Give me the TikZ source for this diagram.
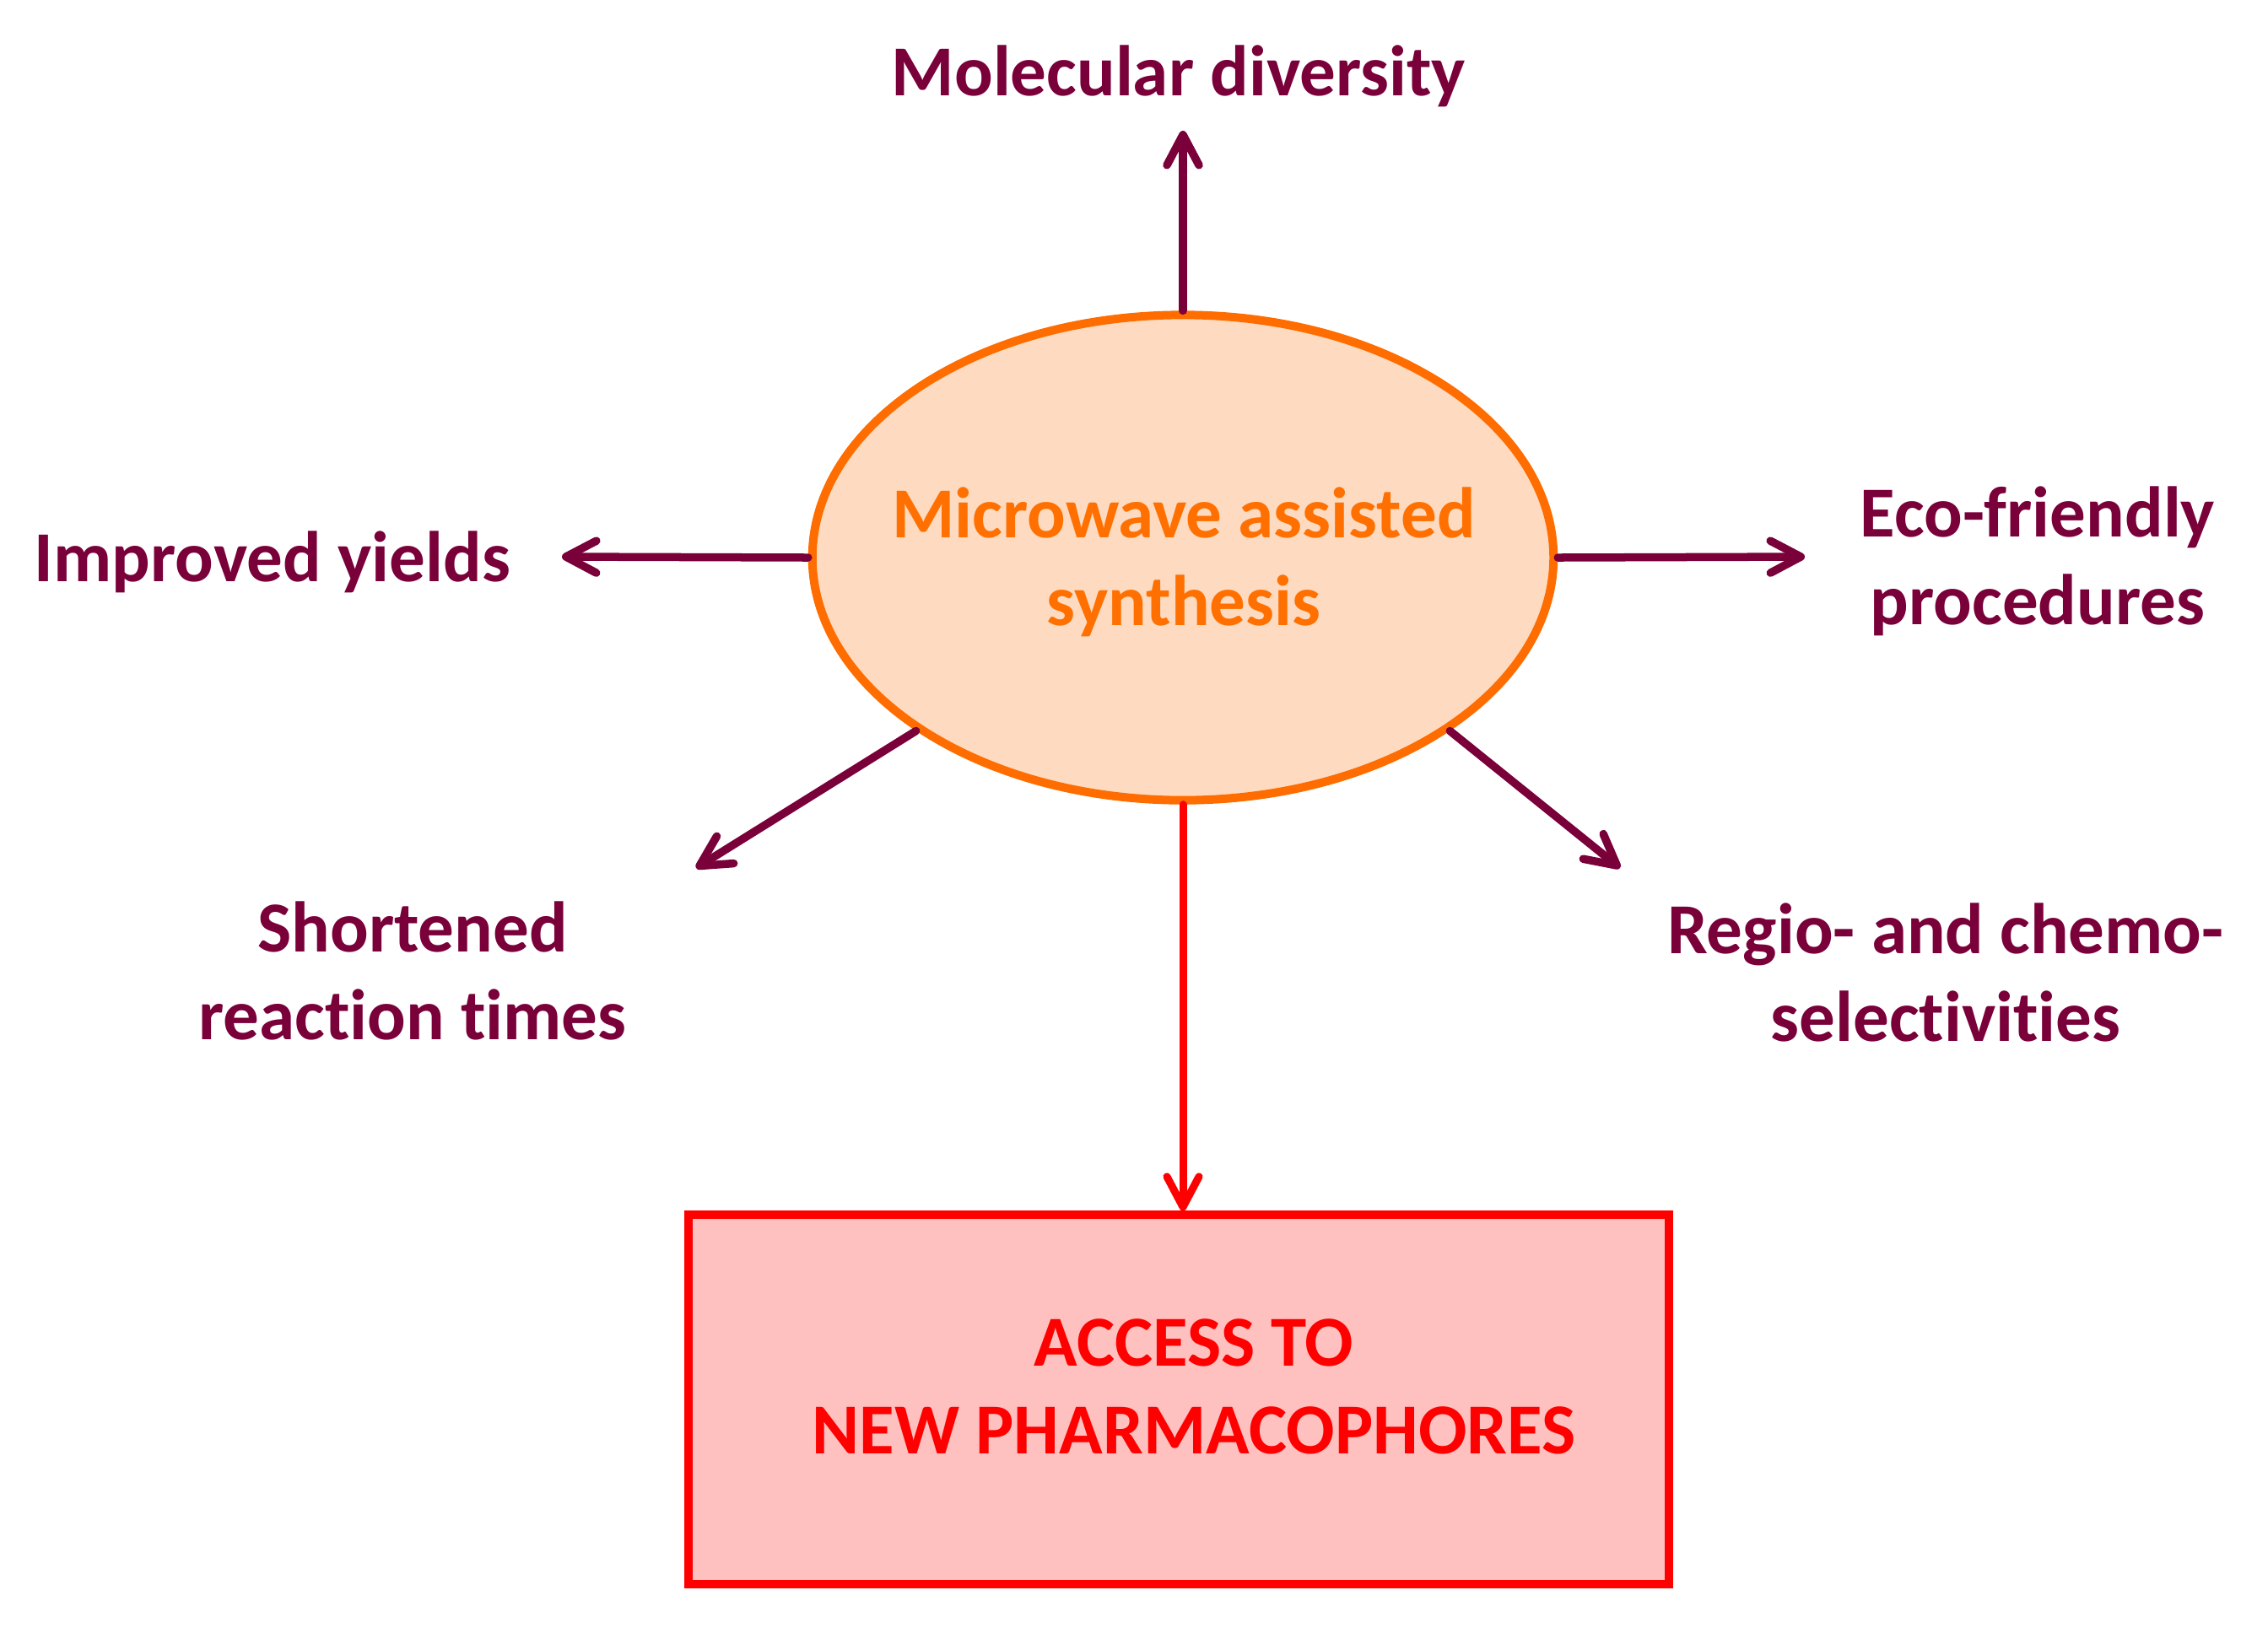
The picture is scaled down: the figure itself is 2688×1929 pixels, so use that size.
\documentclass[tikz,border=0pt]{standalone}
\usepackage{fontspec}
\setmainfont{Carlito}[Ligatures=NoCommon]
\usetikzlibrary{arrows.meta,shapes.geometric}
\definecolor{plum}{RGB}{122,0,58}
\definecolor{orline}{RGB}{255,108,0}
\definecolor{orfill}{RGB}{253,218,192}
\definecolor{orntext}{RGB}{255,112,0}
\definecolor{redline}{RGB}{255,0,0}
\definecolor{redfill}{RGB}{255,192,192}
\tikzset{
  lbl/.style={text=plum, align=center, anchor=base, inner sep=0pt},
  plarrow/.style={draw=plum, line width=0.095cm, line cap=round,
    -{Straight Barb[length=0.36cm, width=0.38cm, round]}},
  redarrow/.style={draw=redline, line width=0.09cm, line cap=round,
    -{Straight Barb[length=0.36cm, width=0.38cm, round]}},
  hub/.style={ellipse, draw=orline, fill=orfill, line width=0.1cm,
    minimum width=8.78cm, minimum height=5.75cm, inner sep=0pt},
  goal/.style={rectangle, draw=redline, fill=redfill, line width=0.1cm,
    minimum width=11.62cm, minimum height=4.37cm, inner sep=0pt},
}
\begin{document}
\begin{tikzpicture}[x=0.01cm, y=-0.01cm, font=\fontsize{24.2}{29.4}\selectfont\bfseries]
\useasboundingbox (0,0) rectangle (2688,1929);
% hub
\node[hub] (mw) at (1402,661) {};
\node[text=orntext, align=center, anchor=base, inner sep=0pt] (mwtext) at (1403,741) {Microwave assisted\\synthesis};
% goal box
\node[goal] (box) at (1397,1659) {};
\node[text=redline, align=center, anchor=base, inner sep=0pt] (boxtext) at (1415,1723) {ACCESS TO\\NEW PHARMACOPHORES};
% labels
\node[lbl] (mol) at (1397,113) {Molecular diversity};
\node[lbl] (yld) at (323,689) {Improved yields};
\node[lbl] (eco) at (2415,740) {Eco-friendly\\procedures};
\node[lbl] (sht) at (489,1232) {Shortened\\reaction times};
\node[lbl] (reg) at (2306,1234) {Regio- and chemo-\\selectivities};
% arrow ends
\coordinate (tmol) at (1402,155);
\coordinate (tyld) at (666,660);
\coordinate (teco) at (2139,660);
\coordinate (tsht) at (825,1029);
\coordinate (treg) at (1920,1029);
% connectors
\draw[plarrow] (mw.north) -- (tmol);
\draw[plarrow] (mw.west) -- (tyld);
\draw[plarrow] (mw.east) -- (teco);
\draw[plarrow] (mw.213) -- (tsht);
\draw[plarrow] (mw.327) -- (treg);
\draw[redarrow] (mw.south) -- (mw.south |- box.north);
\end{tikzpicture}
\end{document}
